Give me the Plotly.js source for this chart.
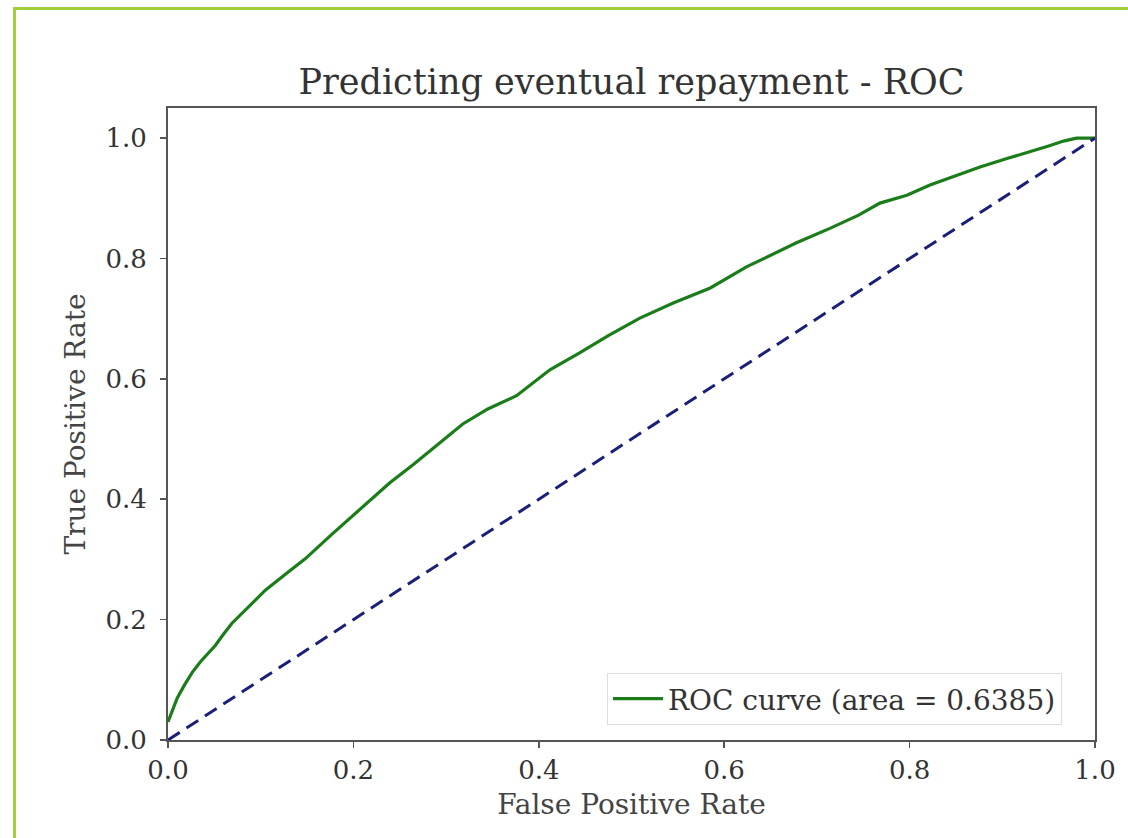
<!DOCTYPE html>
<html>
<head>
<meta charset="utf-8">
<script src="https://cdn.plot.ly/plotly-3.0.1.min.js"></script>
<style>
  html, body { margin: 0; padding: 0; background: #fff; }
  #wrap { position: relative; width: 1128px; height: 838px; overflow: hidden; }
  #chart { width: 1128px; height: 838px; }
  #frame { position: absolute; left: 13px; top: 7px; width: 1200px; height: 900px;
           border-left: 3px solid #9fcf3c; border-top: 3px solid #9fcf3c; pointer-events: none; }
</style>
</head>
<body>
<div id="wrap">
  <div id="chart"></div>
  <div id="frame"></div>
</div>
<script>
// ROC curve values
const fpr = [0.0, 0.005, 0.010, 0.018, 0.026, 0.035, 0.043, 0.051, 0.060, 0.069, 0.088, 0.105, 0.128, 0.148, 0.177, 0.2125, 0.239, 0.265, 0.293, 0.318, 0.345, 0.376, 0.412, 0.444, 0.475, 0.509, 0.545, 0.585, 0.624, 0.678, 0.714, 0.745, 0.768, 0.797, 0.822, 0.850, 0.876, 0.905, 0.930, 0.950, 0.966, 0.980, 0.995, 1.0];
const tpr = [0.030, 0.052, 0.070, 0.092, 0.112, 0.130, 0.144, 0.157, 0.176, 0.194, 0.223, 0.249, 0.277, 0.301, 0.342, 0.390, 0.427, 0.458, 0.493, 0.525, 0.550, 0.572, 0.615, 0.643, 0.672, 0.701, 0.726, 0.751, 0.786, 0.826, 0.850, 0.872, 0.892, 0.905, 0.922, 0.938, 0.952, 0.966, 0.977, 0.987, 0.995, 1.0, 1.0, 1.0];
const diagX = [0, 1];
const diagY = [0, 1];
const curveName = 'ROC curve (area = 0.6385)';
const tickVals = [0.0, 0.2, 0.4, 0.6, 0.8, 1.0];
const tickText = ['0.0', '0.2', '0.4', '0.6', '0.8', '1.0'];

const serif = 'DejaVu Serif, serif';
const traces = [
  { x: fpr, y: tpr, type: 'scatter', mode: 'lines', name: curveName,
    line: { color: '#1a7d1a', width: 3.2 } },
  { x: diagX, y: diagY, type: 'scatter', mode: 'lines', showlegend: false,
    line: { color: '#1c1f78', width: 3, dash: '14px,8px' } }
];

const axisCommon = {
  showgrid: false, zeroline: false, showline: true, mirror: true,
  linecolor: '#555', linewidth: 2, ticks: 'outside', ticklen: 6, tickwidth: 1.5,
  tickcolor: '#555', tickfont: { family: serif, size: 26, color: '#333' },
  tickvals: tickVals, ticktext: tickText
};

const layout = {
  width: 1128, height: 838,
  margin: { l: 168, r: 33, t: 108, b: 98 },
  paper_bgcolor: '#fff', plot_bgcolor: '#fff',
  title: { text: 'Predicting eventual repayment - ROC', x: 0.5, xref: 'paper', xanchor: 'center',
           y: 1 - 82 / 838, yanchor: 'middle',
           font: { family: serif, size: 35, color: '#333' } },
  xaxis: Object.assign({}, axisCommon, { range: [0, 1],
           title: { text: 'False Positive Rate', standoff: 10, font: { family: serif, size: 28, color: '#444' } } }),
  yaxis: Object.assign({}, axisCommon, { range: [0, 1.05], ticklabelstandoff: 8,
           title: { text: 'True Positive Rate', standoff: 12, font: { family: serif, size: 28, color: '#444' } } }),
  showlegend: true,
  legend: { x: 0.9644, y: 0.0237, xanchor: 'right', yanchor: 'bottom', itemwidth: 50,
            bgcolor: '#fff', bordercolor: '#ddd', borderwidth: 1,
            font: { family: serif, size: 28, color: '#333' } }
};

Plotly.newPlot('chart', traces, layout, { displayModeBar: false, staticPlot: true });
</script>
</body>
</html>
